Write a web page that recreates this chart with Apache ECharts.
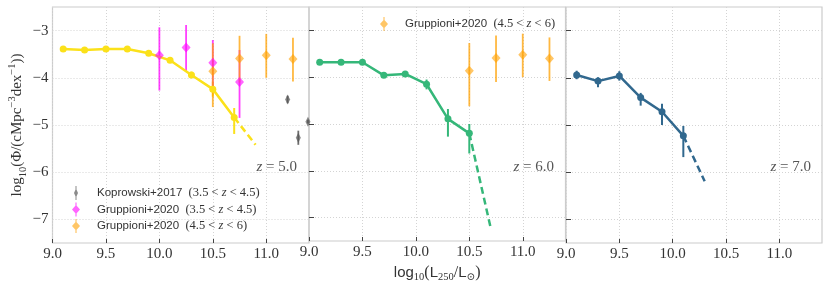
<!DOCTYPE html>
<html><head><meta charset="utf-8">
<script src="https://cdn.jsdelivr.net/npm/echarts@6/dist/echarts.min.js"></script>
<style>html,body{margin:0;padding:0;background:#fff}#c{width:830px;height:288px}</style>
</head><body><div id="c"></div>
<script>
// ---- tick values ----
const xTicks = [9.0, 9.5, 10.0, 10.5, 11.0];
const yTicks = [-7, -6, -5, -4, -3];

// ---- z = 5.0 model ----
const z5X = [9.1, 9.3, 9.5, 9.7, 9.9, 10.1, 10.3, 10.5, 10.7];
const z5Y = [-3.39, -3.41, -3.39, -3.39, -3.48, -3.63, -3.94, -4.24, -4.84];
const z5Up = [0.02, 0.02, 0.02, 0.02, 0.02, 0.03, 0.07, 0.16, 0.20];
const z5Dn = [0.02, 0.02, 0.02, 0.02, 0.02, 0.03, 0.07, 0.16, 0.35];
const z5ExtX = [10.7, 10.9];
const z5ExtY = [-4.84, -5.42];

// ---- z = 6.0 model ----
const z6X = [9.1, 9.3, 9.5, 9.7, 9.9, 10.1, 10.3, 10.5];
const z6Y = [-3.68, -3.68, -3.68, -3.96, -3.93, -4.15, -4.89, -5.20];
const z6Up = [0.02, 0.02, 0.02, 0.04, 0.04, 0.10, 0.21, 0.20];
const z6Dn = [0.02, 0.02, 0.02, 0.04, 0.04, 0.11, 0.38, 0.43];
const z6ExtX = [10.5, 10.7];
const z6ExtY = [-5.20, -7.22];

// ---- z = 7.0 model ----
const z7X = [9.1, 9.3, 9.5, 9.7, 9.9, 10.1];
const z7Y = [-3.94, -4.07, -3.96, -4.42, -4.72, -5.23];
const z7Up = [0.09, 0.08, 0.10, 0.10, 0.17, 0.21];
const z7Dn = [0.09, 0.13, 0.10, 0.17, 0.28, 0.45];
const z7ExtX = [10.1, 10.3];
const z7ExtY = [-5.23, -6.19];

// ---- Koprowski+2017 (3.5<z<4.5) ----
const kopX = [11.2, 11.3, 11.39];
const kopY = [-4.46, -5.27, -4.93];
const kopErr = [0.08, 0.15, 0.04];

// ---- Gruppioni+2020 (3.5<z<4.5) ----
const gLoX = [10.0, 10.25, 10.5, 10.75];
const gLoY = [-3.52, -3.36, -3.68, -4.09];
const gLoUp = [0.59, 0.48, 0.48, 0.68];
const gLoDn = [0.75, 0.51, 0.52, 0.76];

// ---- Gruppioni+2020 (4.5<z<6) ----
const gHiX = [10.5, 10.75, 11.0, 11.25];
const gHiY = [-3.86, -3.59, -3.52, -3.60];
const gHiUp = [0.59, 0.48, 0.45, 0.45];
const gHiDn = [0.76, 0.51, 0.48, 0.48];

const NAME_KOP = 'Koprowski+2017 (3.5 < z < 4.5)';
const NAME_GLO = 'Gruppioni+2020 (3.5 < z < 4.5)';
const NAME_GHI = 'Gruppioni+2020 (4.5 < z < 6)';

const C5 = '#fbe11a', C6 = '#35b779', C7 = '#31688e';
const CMAG = 'rgba(255,0,255,0.75)';
const CORA = 'rgba(255,160,0,0.75)';
const CKOP = 'rgba(85,85,85,0.85)';

const SERIF = '"Liberation Serif", "DejaVu Serif", serif';
const SANS = '"Liberation Sans", "DejaVu Sans", sans-serif';

function pts(xs, ys) { return xs.map((x, i) => [x, ys[i]]); }
function errData(xs, ys, up, dn) { return xs.map((x, i) => [x, ys[i] - dn[i], ys[i] + up[i]]); }

let errCount = 0;
function errSeries(xs, ys, up, dn, color, gi, w) {
  errCount += 1;
  return {
    type: 'custom', name: 'err' + errCount, xAxisIndex: gi, yAxisIndex: gi,
    data: errData(xs, ys, up, dn), encode: { x: 0, y: [1, 2] }, silent: true, z: 3,
    renderItem: function (params, api) {
      const a = api.coord([api.value(0), api.value(1)]);
      const b = api.coord([api.value(0), api.value(2)]);
      return { type: 'line', shape: { x1: a[0], y1: a[1], x2: b[0], y2: b[1] },
        style: { stroke: color, lineWidth: w } };
    }
  };
}
function modelSeries(xs, ys, up, dn, extX, extY, color, gi) {
  return [
    errSeries(xs, ys, up, dn, color, gi, 2),
    { type: 'line', xAxisIndex: gi, yAxisIndex: gi, data: pts(xs, ys), symbol: 'circle', symbolSize: 7,
      itemStyle: { color: color }, lineStyle: { color: color, width: 2.5 }, z: 4, silent: true },
    { type: 'line', xAxisIndex: gi, yAxisIndex: gi, data: pts(extX, extY), symbol: 'none',
      lineStyle: { color: color, width: 2.5, type: [7, 4] }, z: 4, silent: true }
  ];
}
function obsSeries(name, xs, ys, up, dn, color, gi, sym, size) {
  return [
    errSeries(xs, ys, up, dn, color, gi, 1.8),
    { type: 'scatter', name: name, xAxisIndex: gi, yAxisIndex: gi, data: pts(xs, ys),
      symbol: sym, symbolSize: size, itemStyle: { color: color }, z: 6, silent: true }
  ];
}

const grids = [
  { left: 52.5, top: 7, width: 256.5, height: 236 },
  { left: 309, top: 7, width: 256.5, height: 236 },
  { left: 566, top: 7, width: 256, height: 236 }
].map(g => Object.assign(g, { show: true, borderColor: '#cccccc', borderWidth: 1.2, containLabel: false }));

const xAxes = [0, 1, 2].map(i => ({
  type: 'value', gridIndex: i, min: 9.0, max: 11.4,
  axisLine: { show: false },
  axisTick: { show: true, inside: true, length: 4, lineStyle: { color: '#444', width: 1 }, customValues: xTicks },
  axisLabel: { customValues: xTicks, formatter: v => v.toFixed(1), margin: 4,
    fontFamily: SERIF, fontSize: 15, color: '#333' },
  splitLine: { show: true, lineStyle: { color: '#d4d4d4', type: [1, 2], width: 1 } },
  name: i === 1 ? '{s|log}{sb|10}{m|(}{s|L}{sb|250}{m|/}{s|L}{sb|⊙}{m|)}' : '',
  nameLocation: 'middle', nameGap: 22,
  nameTextStyle: { rich: {
    s: { fontFamily: SANS, fontSize: 15, color: '#333', lineHeight: 20, verticalAlign: 'middle' },
    m: { fontFamily: SERIF, fontSize: 16, color: '#333', lineHeight: 20, verticalAlign: 'middle' },
    sb: { fontFamily: SERIF, fontSize: 10.5, color: '#333', lineHeight: 12, verticalAlign: 'bottom' }
  } }
}));

const yAxes = [0, 1, 2].map(i => ({
  type: 'value', gridIndex: i, min: -7.5, max: -2.5,
  axisLine: { show: false },
  axisTick: { show: i > 0, inside: true, length: 5, lineStyle: { color: '#444', width: 1 }, customValues: yTicks },
  axisLabel: { show: i === 0, customValues: yTicks, formatter: v => '\u2212' + Math.abs(v), margin: 4,
    fontFamily: SERIF, fontSize: 15, color: '#333' },
  splitLine: { show: true, lineStyle: { color: '#d4d4d4', type: [1, 2], width: 1 } },
  name: i === 0 ? '{m|log}{sb|10}{m|(Φ/(cMpc}{sp|−3}{m|dex}{sp|−1}{m|))}' : '',
  nameLocation: 'middle', nameGap: 24, nameRotate: 90,
  nameTextStyle: { rich: {
    m: { fontFamily: SERIF, fontSize: 15, color: '#333', lineHeight: 22, verticalAlign: 'middle' },
    sb: { fontFamily: SERIF, fontSize: 10.5, color: '#333', lineHeight: 12, verticalAlign: 'bottom' },
    sp: { fontFamily: SERIF, fontSize: 10.5, color: '#333', lineHeight: 12, verticalAlign: 'top' }
  } }
}));

const series = [].concat(
  modelSeries(z5X, z5Y, z5Up, z5Dn, z5ExtX, z5ExtY, C5, 0),
  modelSeries(z6X, z6Y, z6Up, z6Dn, z6ExtX, z6ExtY, C6, 1),
  modelSeries(z7X, z7Y, z7Up, z7Dn, z7ExtX, z7ExtY, C7, 2),
  obsSeries(NAME_KOP, kopX, kopY, kopErr, kopErr, CKOP, 0, 'diamond', [5, 10]),
  obsSeries(NAME_GLO, gLoX, gLoY, gLoUp, gLoDn, CMAG, 0, 'diamond', [9, 10]),
  obsSeries(NAME_GHI, gHiX, gHiY, gHiUp, gHiDn, CORA, 0, 'diamond', [9, 10]),
  obsSeries(NAME_GHI, gHiX, gHiY, gHiUp, gHiDn, CORA, 1, 'diamond', [9, 10])
);

const ICON_D = 'path://M3.4,0 H4.6 V14 H3.4 Z M4,2.5 L8,7 L4,11.5 L0,7 Z';
const ICON_TD = 'path://M1.5,0 H2.5 V14 H1.5 Z M2,2.5 L4,7 L2,11.5 L0,7 Z';
const legRich = {
  s: { fontFamily: SANS, fontSize: 11.5, color: '#333' },
  m: { fontFamily: SERIF, fontSize: 12.5, color: '#333' },
  i: { fontFamily: SERIF, fontSize: 12.5, fontStyle: 'italic', color: '#333' }
};
function legFmt(name) {
  const m = name.match(/^(\S+) \((.*) < z < (.*)\)$/);
  return '{s|' + m[1] + '}{m|  (' + m[2] + ' < }{i|z}{m| < ' + m[3] + ')}';
}
const legendBase = { orient: 'vertical', itemWidth: 32, itemHeight: 14, itemGap: 2.5, selectedMode: false,
  formatter: legFmt, textStyle: { rich: legRich, lineHeight: 14 }, symbolKeepAspect: true };

const annRich = {
  i: { fontFamily: SERIF, fontSize: 15, fontStyle: 'italic', fill: '#555' },
  m: { fontFamily: SERIF, fontSize: 15, fill: '#555' }
};
function ann(txt, x) {
  return { type: 'text', right: 830 - x, top: 160, style: {
    text: '{i|z}{m| = ' + txt + '}', rich: annRich, fill: '#555' }, z: 10 };
}

const option = {
  animation: false,
  backgroundColor: '#ffffff',
  grid: grids, xAxis: xAxes, yAxis: yAxes, series: series,
  legend: [
    Object.assign({}, legendBase, { left: 67, top: 181,
      data: [{ name: NAME_KOP, icon: ICON_TD }, { name: NAME_GLO, icon: ICON_D }, { name: NAME_GHI, icon: ICON_D }] }),
    Object.assign({}, legendBase, { left: 375, top: 12, data: [{ name: NAME_GHI, icon: ICON_D }] })
  ],
  graphic: [ann('5.0', 297), ann('6.0', 554), ann('7.0', 811)]
};
const chart = echarts.init(document.getElementById('c'), null, { renderer: 'canvas' });
chart.setOption(option);
</script></body></html>
